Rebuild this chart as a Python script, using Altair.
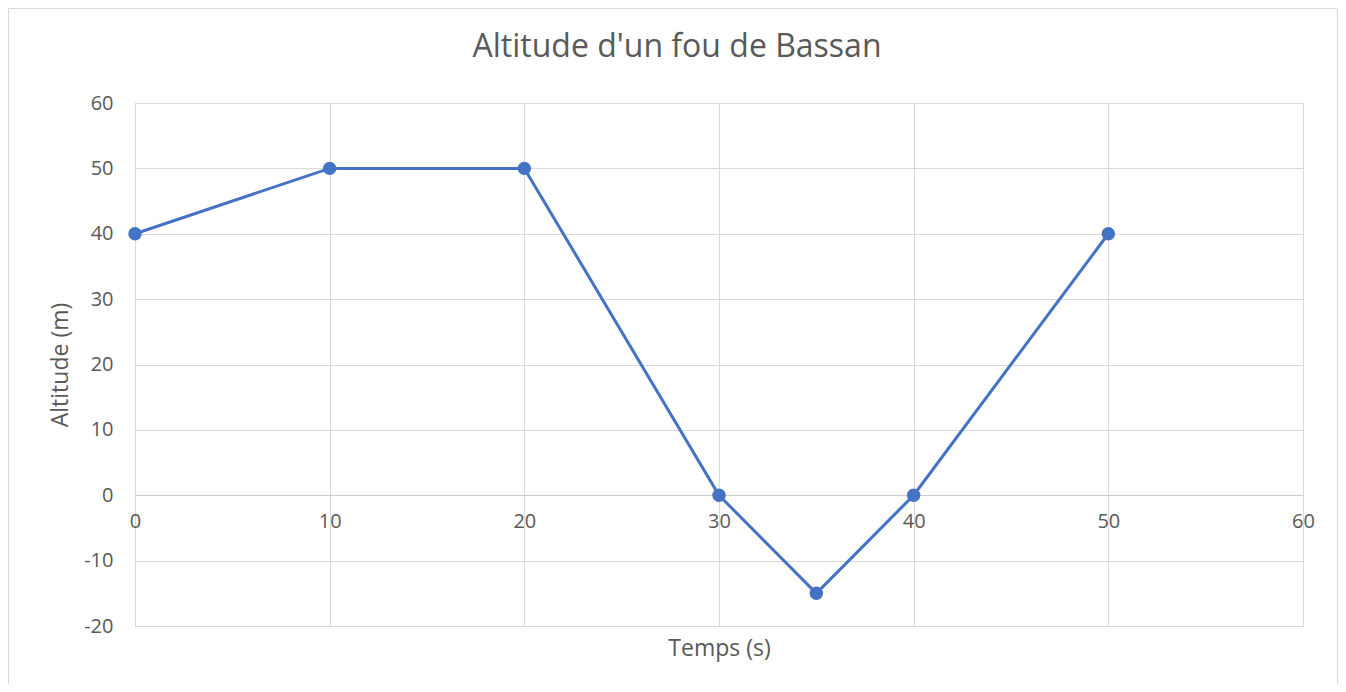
import altair as alt
import pandas as pd

# Data
temps = [0, 10, 20, 30, 35, 40, 50]
altitude = [40, 50, 50, 0, -15, 0, 40]
x_ticks = [0, 10, 20, 30, 40, 50, 60]
y_ticks = [-20, -10, 0, 10, 20, 30, 40, 50, 60]
chart_title = "Altitude d'un fou de Bassan"

df = pd.DataFrame({"Temps": temps, "Altitude": altitude})

FONT = "Open Sans"
GRID = "#d9d9d9"
TXT = "#595959"
BLUE = "#4472C4"

W, H = 1168, 523

x_enc = alt.X(
    "Temps:Q",
    scale=alt.Scale(domain=[0, 60], nice=False),
    axis=alt.Axis(
        values=x_ticks,
        title="Temps (s)",
        offset=-131,
        ticks=False,
        domain=True,
        domainColor="#cccccc",
        grid=True,
        gridColor=GRID,
        labelFlush=False,
        labelPadding=16,
        labelFontSize=20,
        labelColor=TXT,
        labelFont=FONT,
        labelExpr="datum.value + ''",
        titleFont=FONT,
        titleFontSize=23,
        titleFontWeight="normal",
        titleColor=TXT,
        titleY=153,
        titleBaseline="middle",
    ),
)
y_enc = alt.Y(
    "Altitude:Q",
    scale=alt.Scale(domain=[-20, 60], nice=False),
    axis=alt.Axis(
        values=y_ticks,
        title="Altitude (m)",
        ticks=False,
        domain=False,
        grid=True,
        gridColor=GRID,
        labelFlush=False,
        labelPadding=22,
        labelFontSize=20,
        labelColor=TXT,
        labelFont=FONT,
        labelExpr="datum.value + ''",
        titleFont=FONT,
        titleFontSize=23,
        titleFontWeight="normal",
        titleColor=TXT,
        titleX=-75,
        titleY=H / 2,
        titleBaseline="middle",
    ),
)

line = alt.Chart(df).mark_line(color=BLUE, strokeWidth=3).encode(x=x_enc, y=y_enc)
points = alt.Chart(df).mark_point(
    filled=True, color=BLUE, size=180, opacity=1
).encode(x="Temps:Q", y="Altitude:Q")

one = pd.DataFrame({"t": [chart_title]})
title_mark = alt.Chart(one).mark_text(
    font=FONT, fontSize=32, color=TXT, align="center", baseline="middle", clip=False
).encode(x=alt.value(542), y=alt.value(-56), text="t:N")

left = alt.Chart(one).mark_rule(color=GRID, strokeWidth=1, clip=False).encode(
    x=alt.value(-126.5), y=alt.value(-94.5), y2=alt.value(H + 100)
)
top = alt.Chart(one).mark_rule(color=GRID, strokeWidth=1, clip=False).encode(
    x=alt.value(-126.5), x2=alt.value(W + 34.5), y=alt.value(-94.5)
)
right = alt.Chart(one).mark_rule(color=GRID, strokeWidth=1, clip=False).encode(
    x=alt.value(W + 34.5), y=alt.value(-94.5), y2=alt.value(H + 100)
)

chart = (
    alt.layer(left, top, right, title_mark, line, points)
    .properties(
        width=W,
        height=H,
        autosize=alt.AutoSizeParams(type="none"),
        padding={"left": 127, "top": 95, "right": 35, "bottom": 58},
    )
    .configure_view(stroke=GRID)
    .configure(background="white")
)

chart.save("out.html", embed_options={"renderer": "svg", "actions": False})
